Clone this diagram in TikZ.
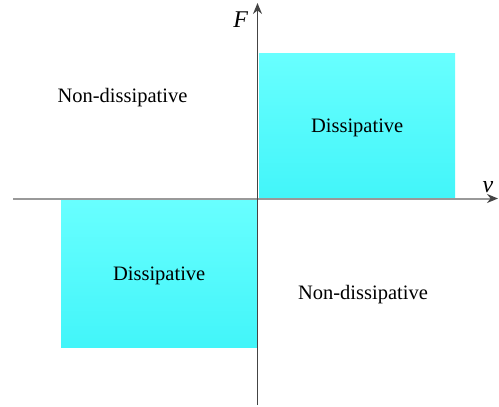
\documentclass[tikz,border=0pt]{standalone}
\usepackage{fontspec}
\setmainfont{Liberation Serif}
\usetikzlibrary{arrows.meta,positioning}
\definecolor{quadTop}{RGB}{104,255,255}
\definecolor{quadBot}{RGB}{66,245,249}
\definecolor{axisDark}{RGB}{68,68,68}
\definecolor{axisGray}{RGB}{153,153,153}
\tikzset{
    quad/.style={rectangle, inner sep=0pt, anchor=north west,
                 top color=quadTop, bottom color=quadBot,
                 minimum width=196pt, minimum height=146pt, text depth=0pt,
                 font=\fontsize{20.5}{24}\selectfont},
    label/.style={font=\fontsize{20.5}{24}\selectfont},
    axisLabel/.style={font=\fontsize{24}{28}\selectfont\itshape},
    axisV/.style={draw=axisDark, line width=1.4pt, -{Stealth[length=11pt,width=9pt]}},
    axisH/.style={draw=axisGray, line width=2pt, -{Stealth[length=11pt,width=9pt,color=axisDark]}}
}
\begin{document}
\begin{tikzpicture}[x=1pt, y=-1pt]
  \useasboundingbox (0,0) rectangle (499,407);
  % quadrants
  \node [quad] (QI) at (259,53) {Dissipative};
  \node [quad, minimum height=147pt] (QIII) at (61,200) {Dissipative};
  \node [label] (QII) at (122.5,97.5) {Non-dissipative};
  \node [label] (QIV) at (363,294.5) {Non-dissipative};

  % axes
  \coordinate (vLow) at (257.5,405);
  \coordinate (vTop) at (257.5,3);
  \coordinate (hLeft) at (13,198.5);
  \coordinate (hRight) at (498,198.5);
  \draw[axisH] (hLeft) -- (hRight);
  \draw[axisV] (vLow) -- (vTop);
  \node [axisLabel, left=6pt of vTop, yshift=-17pt] (F) {F};
  \node [axisLabel, above=2pt of hRight, xshift=-10pt] (v) {v};
\end{tikzpicture}
\end{document}
